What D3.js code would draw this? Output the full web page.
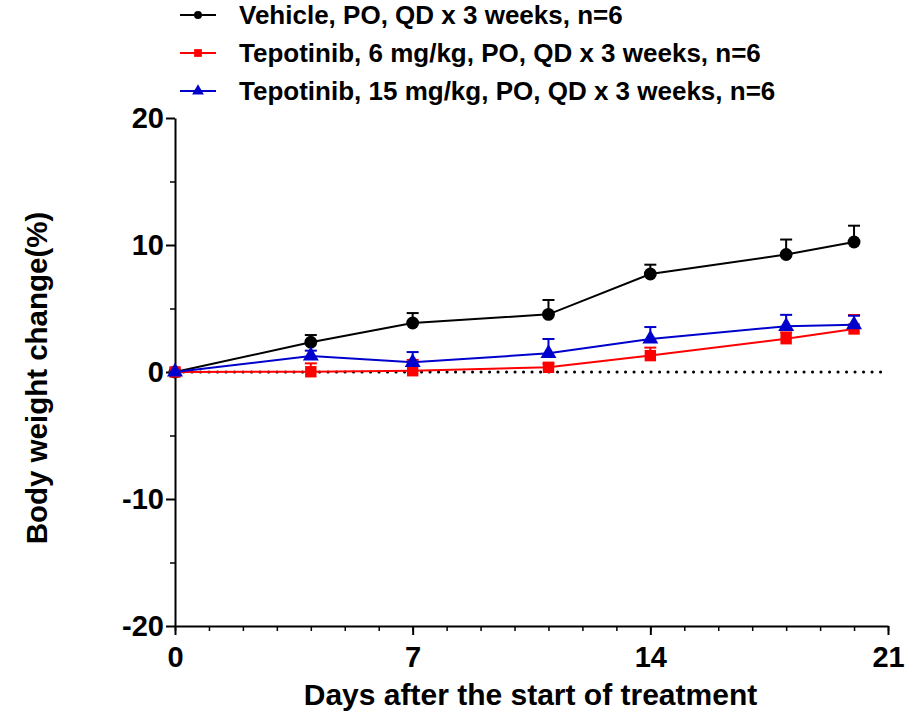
<!DOCTYPE html>
<html>
<head>
<meta charset="utf-8">
<script src="https://cdn.jsdelivr.net/npm/d3@7"></script>
<style>
  body { margin: 0; background: #fff; }
  text { font-family: "Liberation Sans", Arial, sans-serif; font-weight: bold; }
</style>
</head>
<body>
<div id="chart"></div>
<script>
var days = [0, 4, 7, 11, 14, 18, 20];
var vehicleMean = [0, 2.34, 3.86, 4.54, 7.72, 9.25, 10.24];
var vehicleSem  = [0, 0.57, 0.78, 1.13, 0.73, 1.18, 1.28];
var tepo6Mean   = [0, 0.02, 0.10, 0.37, 1.29, 2.62, 3.39];
var tepo6Sem    = [0, 0.66, 0.85, 0.30, 0.63, 0.50, 1.10];
var tepo15Mean  = [0, 1.26, 0.76, 1.47, 2.60, 3.60, 3.73];
var tepo15Sem   = [0, 0.42, 0.81, 1.13, 0.94, 0.90, 0.70];
var xMajorTicks = [0, 7, 14, 21];
var yMajorTicks = [-20, -10, 0, 10, 20];
var seriesNames = [
  "Vehicle, PO, QD x 3 weeks, n=6",
  "Tepotinib, 6 mg/kg, PO, QD x 3 weeks, n=6",
  "Tepotinib, 15 mg/kg, PO, QD x 3 weeks, n=6"
];

var series = [
  {name: seriesNames[0], mean: vehicleMean, sem: vehicleSem, color: "#000000", shape: d3.symbolCircle},
  {name: seriesNames[1], mean: tepo6Mean, sem: tepo6Sem, color: "#ff0000", shape: d3.symbolSquare},
  {name: seriesNames[2], mean: tepo15Mean, sem: tepo15Sem, color: "#0000cc", shape: d3.symbolTriangle}
];

var W = 915, H = 717;
var margin = {top: 118, right: 27, bottom: 91, left: 175};

var svg = d3.select("#chart").append("svg")
  .attr("width", W).attr("height", H);

var x = d3.scaleLinear().domain([0, 21]).range([margin.left, W - margin.right]);
var y = d3.scaleLinear().domain([-20, 20]).range([H - margin.bottom, margin.top]);

/* minor ticks first, then major axis on top */
svg.append("g")
  .attr("transform", `translate(0, ${y(-20)})`)
  .call(d3.axisBottom(x).tickValues(d3.range(0, 22)).tickSize(5).tickFormat(""))
  .call(g => g.select(".domain").remove())
  .selectAll("line").attr("stroke-width", 1.5);

var xAxis = svg.append("g")
  .attr("transform", `translate(0, ${y(-20)})`)
  .call(d3.axisBottom(x).tickValues(xMajorTicks).tickSize(9).tickSizeOuter(0).tickPadding(11));
xAxis.select(".domain").attr("stroke-width", 2);
xAxis.selectAll("line").attr("stroke-width", 2);
xAxis.selectAll("text").attr("font-size", 29).attr("fill", "#000");

svg.append("g")
  .attr("transform", `translate(${x(0)}, 0)`)
  .call(d3.axisLeft(y).tickValues([-15, -5, 5, 15]).tickSize(5).tickFormat(""))
  .call(g => g.select(".domain").remove())
  .selectAll("line").attr("stroke-width", 1.5);

var yAxis = svg.append("g")
  .attr("transform", `translate(${x(0)}, 0)`)
  .call(d3.axisLeft(y).tickValues(yMajorTicks).tickSize(9).tickSizeOuter(0).tickPadding(2)
    .tickFormat(d => String(d)));
yAxis.select(".domain").attr("stroke-width", 2);
yAxis.selectAll("line").attr("stroke-width", 2);
yAxis.selectAll("text").attr("font-size", 29).attr("fill", "#000");

// dotted zero line
svg.append("line")
  .attr("x1", x(0)).attr("x2", x(21))
  .attr("y1", y(0)).attr("y2", y(0))
  .attr("stroke", "#000").attr("stroke-width", 3)
  .attr("stroke-linecap", "round")
  .attr("stroke-dasharray", "0.1,8.4");

var line = d3.line().x((d, i) => x(days[i])).y(d => y(d));

series.forEach(function(s) {
  var g = svg.append("g");
  // upper error bars
  days.forEach(function(day, i) {
    if (s.sem[i] <= 0) return;
    g.append("line")
      .attr("x1", x(day)).attr("x2", x(day))
      .attr("y1", y(s.mean[i])).attr("y2", y(s.mean[i] + s.sem[i]))
      .attr("stroke", s.color).attr("stroke-width", 2);
    g.append("line")
      .attr("x1", x(day) - 6).attr("x2", x(day) + 6)
      .attr("y1", y(s.mean[i] + s.sem[i])).attr("y2", y(s.mean[i] + s.sem[i]))
      .attr("stroke", s.color).attr("stroke-width", 2);
  });
  g.append("path")
    .attr("d", line(s.mean))
    .attr("fill", "none").attr("stroke", s.color).attr("stroke-width", 2);
  g.selectAll("path.pt").data(s.mean).enter().append("path")
    .attr("class", "pt")
    .attr("d", d3.symbol().type(s.shape).size(s.shape === d3.symbolTriangle ? 110 : 130))
    .attr("transform", (d, i) => `translate(${x(days[i])}, ${y(d)})`)
    .attr("fill", s.color);
});

// legend
var legend = svg.append("g");
series.forEach(function(s, i) {
  var ly = 15 + i * 38;
  legend.append("line").attr("x1", 180).attr("x2", 216).attr("y1", ly).attr("y2", ly)
    .attr("stroke", s.color).attr("stroke-width", 2);
  legend.append("path")
    .attr("d", d3.symbol().type(s.shape).size(s.shape === d3.symbolCircle ? 50 : 60))
    .attr("transform", `translate(198, ${ly})`)
    .attr("fill", s.color);
  legend.append("text").attr("x", 239).attr("y", ly)
    .attr("dy", "0.36em")
    .attr("font-size", 26)
    .text(s.name);
});

// axis titles
svg.append("text")
  .attr("x", (x(0) + x(21)) / 2 - 1)
  .attr("y", 705)
  .attr("text-anchor", "middle")
  .attr("font-size", 30)
  .text("Days after the start of treatment");

svg.append("text")
  .attr("transform", "rotate(-90)")
  .attr("x", -378)
  .attr("y", 47)
  .attr("text-anchor", "middle")
  .attr("font-size", 29.5)
  .text("Body weight change(%)");
</script>
</body>
</html>
